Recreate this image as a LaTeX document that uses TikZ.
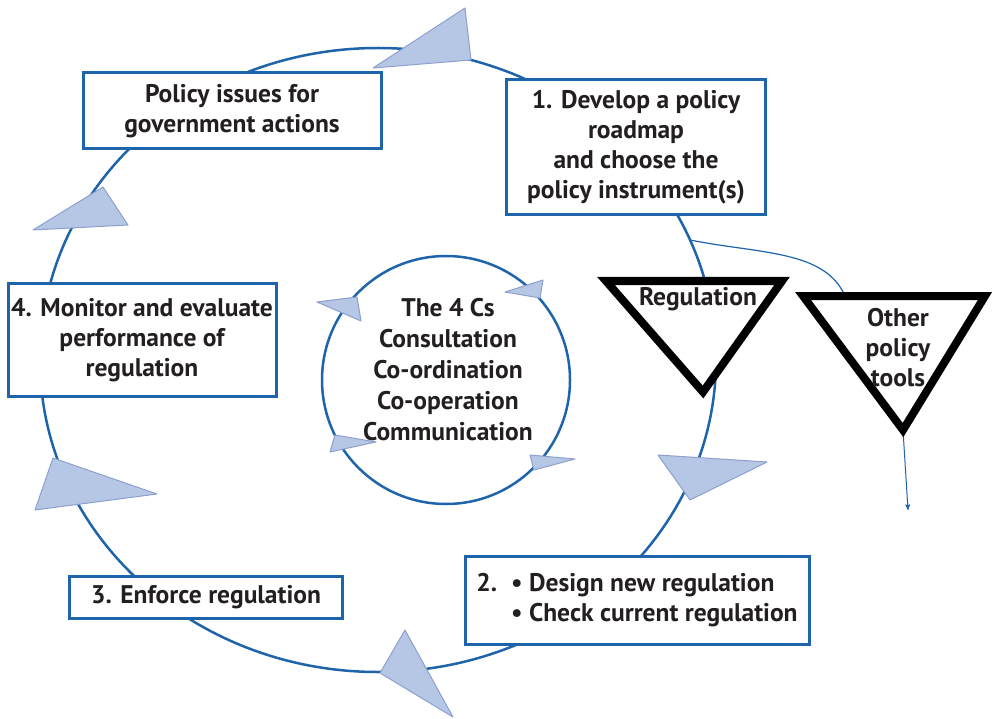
\documentclass[tikz,border=0pt]{standalone}
\usepackage{fontspec}
\setmainfont{PT Sans}
\usetikzlibrary{arrows}
\definecolor{cycle_blue}{RGB}{30,100,170}
\definecolor{head_fill}{RGB}{182,198,229}
\definecolor{head_line}{RGB}{140,160,205}
\definecolor{text_gray}{RGB}{35,31,32}

\begin{document}
\begin{tikzpicture}[x=1pt,y=-1pt,>=stealth',semithick]
    \tikzstyle{box}=[draw=cycle_blue, line width=3pt, fill=white, align=center, inner sep=0pt, text=text_gray, font=\fontsize{25.5}{30}\selectfont\bfseries]
    \tikzstyle{head}=[fill=head_fill, draw=head_line, line width=1pt, line join=round]
    \tikzstyle{tool}=[draw=black, line width=8pt, fill=white, line join=miter]
    \tikzstyle{word}=[align=center, inner sep=0pt, text=text_gray, font=\fontsize{25.5}{30}\selectfont\bfseries]

    \useasboundingbox (0,0) rectangle (998,719);

    % the cycle
    \draw[cycle_blue, line width=2.5pt] (378,360) ellipse [x radius=338pt, y radius=312pt];
    \coordinate (tap) at (690,240);
    \coordinate (otop) at (845,296);
    \coordinate (obot) at (903,430);
    \coordinate (exit) at (908,510);
    \draw[cycle_blue, line width=1.2pt] (tap) .. controls (760,254) and (825,250) .. (otop);
    \draw[->, cycle_blue, line width=1pt] (obot) -- (exit);

    % policy tools
    \draw[tool] (606,281) -- (782,281) -- (703,392) -- cycle;
    \draw[tool] (803,296) -- (985,296) -- (903,430) -- cycle;
    \node[word] (reg) at (698,299) {Regulation};
    \node[word] (other) at (898,348) {Other\\policy\\tools};

    % steps
    \node[box, minimum width=298, minimum height=76] (issues) at (232,111) {Policy issues for\\government actions};
    \node[box, minimum width=259, minimum height=135] (develop) at (636,147) {1. Develop a policy\\roadmap\\and choose the\\policy instrument(s)};
    \node[box, minimum width=344, minimum height=88] (design) at (637,600) {\begin{tabular}{@{}l@{\hspace{14pt}}l@{}}2. & \textbullet\ Design new regulation\\ & \textbullet\ Check current regulation\end{tabular}};
    \node[box, minimum width=273, minimum height=42] (enforce) at (206,597) {3. Enforce regulation};
    \node[box, minimum width=268, minimum height=113] (monitor) at (142,340) {4. Monitor and evaluate\\performance of\\regulation};

    % the 4 Cs
    \node[draw=cycle_blue, line width=2.5pt, circle, minimum size=248pt] (cs) at (446,380) {};
    \node[word, font=\fontsize{25.5}{31}\selectfont\bfseries] (cstext) at (448,370) {The 4 Cs\\Consultation\\Co-ordination\\Co-operation\\Communication};

    % arrow heads
    \draw[head] (373,68) -- (465,8) -- (471,60) -- cycle;
    \draw[head] (33,230) -- (103,187) -- (128,225) -- cycle;
    \draw[head] (53,458) -- (157,494) -- (35,510) -- cycle;
    \draw[head] (380,673) -- (405,630) -- (453,717) -- cycle;
    \draw[head] (658,455) -- (767,462) -- (690,500) -- cycle;
    \draw[head] (317,302) -- (357,297) -- (361,321) -- cycle;
    \draw[head] (335,435) -- (376,442) -- (330,452) -- cycle;
    \draw[head] (505,292) -- (543,280) -- (540,298) -- cycle;
    \draw[head] (530,455) -- (575,459) -- (534,470) -- cycle;
\end{tikzpicture}
\end{document}
